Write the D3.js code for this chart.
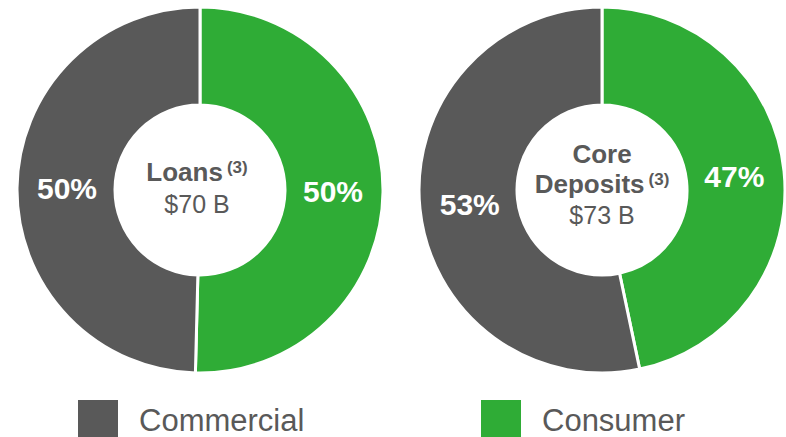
<!DOCTYPE html>
<html>
<head>
<meta charset="utf-8">
<script src="https://cdn.jsdelivr.net/npm/d3@7"></script>
<style>
  body { margin: 0; background: #fff; }
  svg { display: block; font-family: "Liberation Sans", Arial, sans-serif; }
</style>
</head>
<body>
<svg id="chart" width="786" height="437"></svg>
<script>
// Segment names and colours
const segments = ["Consumer", "Commercial"];
const segmentColors = ["#2fac36", "#595959"];

// Share of each donut, in the order of segments (percent)
const loansShare = [50.4, 49.6];
const depositsShare = [46.7, 53.3];

// Centre captions
const loansTitle = ["Loans"];
const loansTotal = "$70 B";
const depositsTitle = ["Core", "Deposits"];
const depositsTotal = "$73 B";

const legendOrder = ["Commercial", "Consumer"];

const svg = d3.select("#chart");
const color = d3.scaleOrdinal().domain(segments).range(segmentColors);

const outerR = 183;
const innerR = 85;

const pie = d3.pie().sort(null).value((d) => d.value);
const arc = d3.arc().innerRadius(innerR).outerRadius(outerR);
const labelArc = d3.arc().innerRadius(133).outerRadius(133);

function drawDonut(cx, cy, shares, titleLines, total, textShift, firstBase, lineH) {
  const g = svg.append("g").attr("transform", `translate(${cx},${cy})`);
  const data = segments.map((s, i) => ({ name: s, value: shares[i] }));
  const arcs = pie(data);

  g.selectAll("path")
    .data(arcs)
    .join("path")
    .attr("d", arc)
    .attr("fill", (d) => color(d.data.name))
    .attr("stroke", "#fff")
    .attr("stroke-width", 3);

  // percentage labels
  g.selectAll("text.pct")
    .data(arcs)
    .join("text")
    .attr("class", "pct")
    .attr("transform", (d) => `translate(${labelArc.centroid(d)})`)
    .attr("text-anchor", "middle")
    .attr("dy", "0.36em")
    .attr("fill", "#fff")
    .attr("font-weight", "bold")
    .attr("font-size", 30)
    .text((d) => Math.round(d.data.value) + "%");

  // centre caption
  const n = titleLines.length;
  titleLines.forEach((line, i) => {
    const t = g.append("text")
      .attr("x", textShift)
      .attr("y", firstBase + i * lineH)
      .attr("text-anchor", "middle")
      .attr("fill", "#595959")
      .attr("font-weight", "bold")
      .attr("font-size", 26);
    t.append("tspan").text(line);
    if (i === n - 1) {
      t.append("tspan")
        .attr("font-size", 17)
        .attr("dx", 4)
        .attr("dy", -8)
        .text("(3)");
    }
  });
  g.append("text")
    .attr("x", textShift)
    .attr("y", firstBase + n * lineH + 2)
    .attr("text-anchor", "middle")
    .attr("fill", "#595959")
    .attr("font-size", 25)
    .text(total);
}

drawDonut(200, 190, loansShare, loansTitle, loansTotal, -3, -9, 30);
drawDonut(602, 190, depositsShare, depositsTitle, depositsTotal, 0, -27, 29.5);

// legend
const legendX = d3.scalePoint().domain(legendOrder).range([78, 481]);
const legend = svg.selectAll("g.legend")
  .data(legendOrder)
  .join("g")
  .attr("class", "legend")
  .attr("transform", (d) => `translate(${legendX(d)},400)`);

legend.append("rect")
  .attr("width", 40)
  .attr("height", 40)
  .attr("fill", (d) => color(d));

legend.append("text")
  .attr("x", 61)
  .attr("y", 31)
  .attr("fill", "#595959")
  .attr("font-size", 31)
  .text((d) => d);
</script>
</body>
</html>
